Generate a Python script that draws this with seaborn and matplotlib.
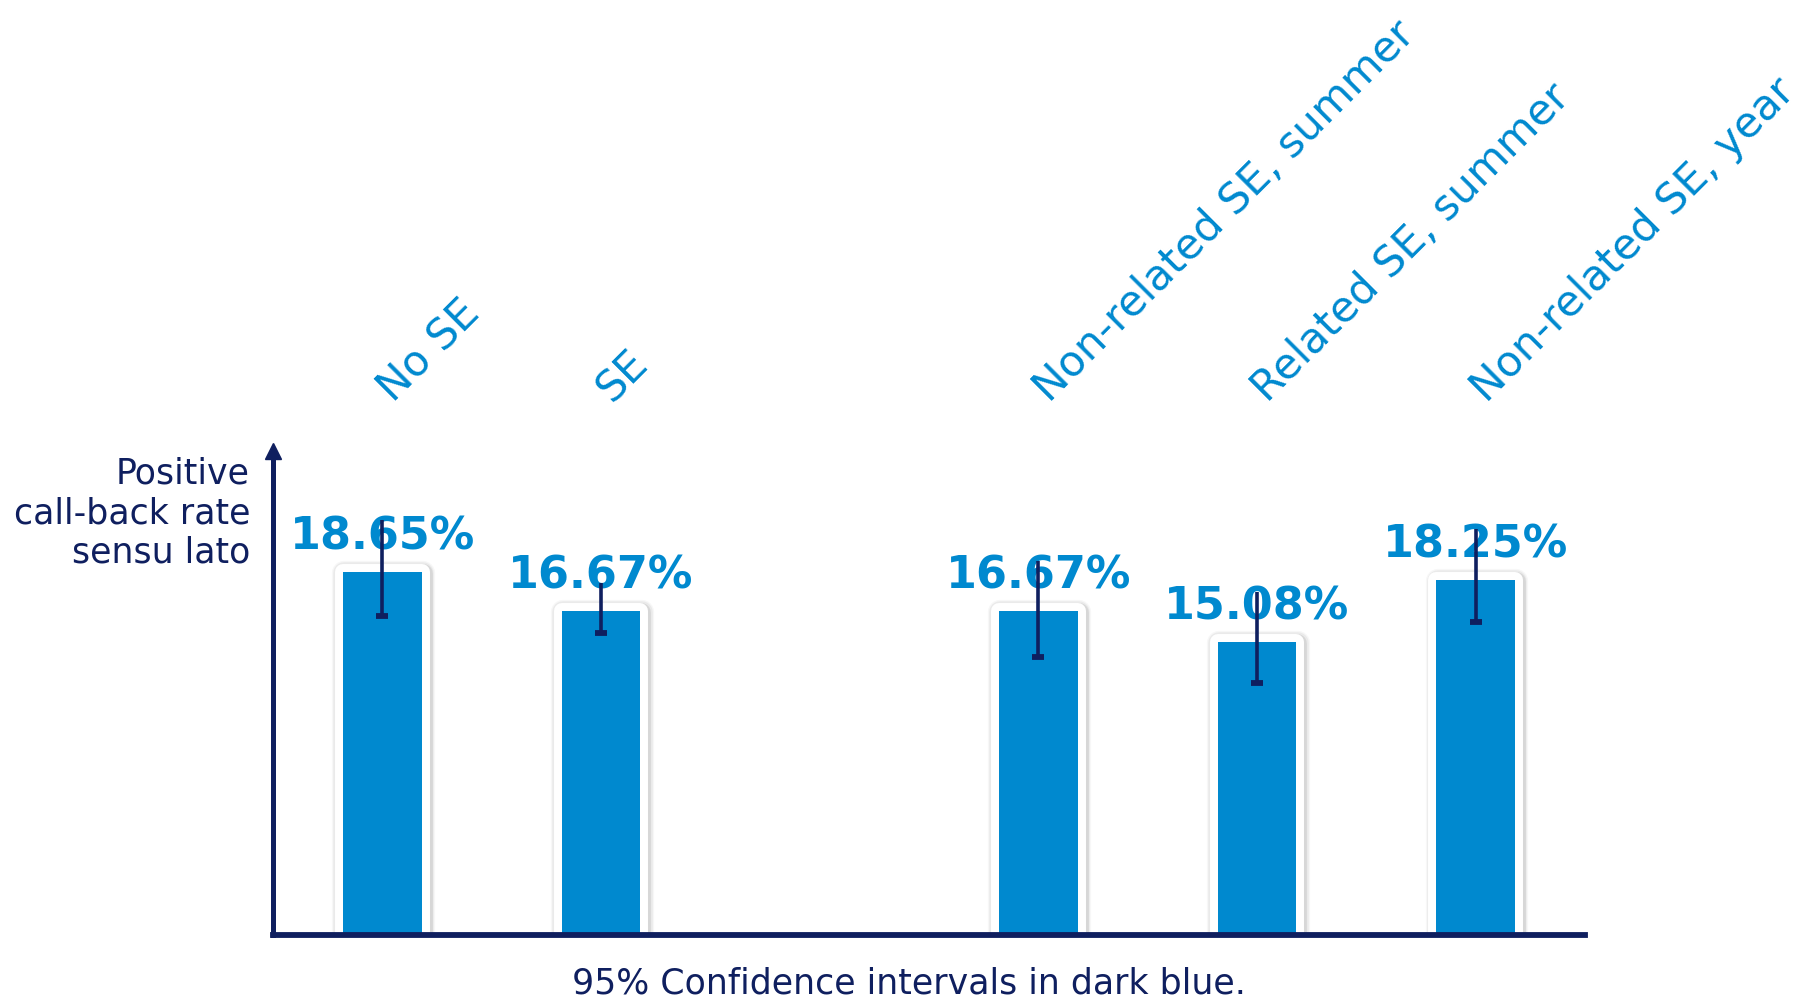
import matplotlib
matplotlib.use("Agg")
import matplotlib.pyplot as plt
import matplotlib.patheffects as pe
import seaborn as sns
import pandas as pd

# ====== DATA ======
categories = ["No SE", "SE", "Non-related SE, summer", "Related SE, summer", "Non-related SE, year"]
order = ["No SE", "SE", " ", "Non-related SE, summer", "Related SE, summer", "Non-related SE, year"]
rates = [18.65, 16.67, 16.67, 15.08, 18.25]
ci_low = [16.4, 15.5, 14.3, 12.95, 16.1]
ci_high = [21.3, 18.1, 19.2, 17.6, 20.85]
value_labels = ["18.65%", "16.67%", "16.67%", "15.08%", "18.25%"]

ylabel = "Positive\ncall-back rate\nsensu lato"
footnote = "95% Confidence intervals in dark blue."

# ====== STYLE ======
LIGHT = "#0089cf"
NAVY = "#0f1f5f"

sns.set_style("white")
plt.rcParams["font.family"] = ["DejaVu Sans"]

df = pd.DataFrame({"group": categories, "rate": rates})

fig = plt.figure(figsize=(18.04, 9.98), dpi=100)
ax = fig.add_axes([273 / 1804, 63 / 998, 1312 / 1804, 484 / 998])

sns.barplot(data=df, x="group", y="rate", order=order, color=LIGHT,
            saturation=1, width=0.36, ax=ax, linewidth=0)

# white frame with a soft grey shadow round each bar
frame = [
    pe.Stroke(linewidth=17.5, foreground="black", alpha=0.03, offset=(1, -1), joinstyle="round"),
    pe.Stroke(linewidth=15.5, foreground="black", alpha=0.05, offset=(1, -1), joinstyle="round"),
    pe.Stroke(linewidth=13.5, foreground="black", alpha=0.08, offset=(0.8, -0.8), joinstyle="round"),
    pe.Stroke(linewidth=11.5, foreground="white", joinstyle="round"),
    pe.Normal(),
]
for p in ax.patches:
    p.set_path_effects(frame)

ax.set_xlim(-0.5, 5.5)
ax.set_ylim(0, 24.87)

# positions of the real categories on the axis
pos = [order.index(c) for c in categories]

# error bars: line up from the low end, cap at the low end only
ax.vlines(pos, ci_low, ci_high, color=NAVY, lw=2.6, zorder=6, clip_on=False)
ax.plot(pos, ci_low, ls="none", marker="_", ms=9, mew=4.2, color=NAVY,
        zorder=6, clip_on=False)

# value labels above the bars
for x, v, t in zip(pos, rates, value_labels):
    ax.annotate(t, (x, v), xytext=(0, 16), textcoords="offset points",
                ha="center", va="baseline", fontsize=32, fontweight="bold",
                color=LIGHT, zorder=5, annotation_clip=False)

# rotated category names above the plot
for x, c in zip(pos, categories):
    ax.text(x + 0.05, 27.3, c, rotation=45, rotation_mode="anchor",
            ha="left", va="baseline", fontsize=30.5, color=LIGHT, clip_on=False)

# axes: only left (with arrow) and bottom
for s in ["top", "right"]:
    ax.spines[s].set_visible(False)
ax.spines["left"].set_color(NAVY)
ax.spines["left"].set_linewidth(3.6)
ax.spines["bottom"].set_color(NAVY)
ax.spines["bottom"].set_linewidth(4.2)
ax.plot(0, 1, marker="^", ms=12, color=NAVY, transform=ax.transAxes,
        clip_on=False, zorder=7)

ax.set_xticks([])
ax.set_yticks([])
ax.set_xlabel("")
ax.set_ylabel("")

fig.text(250 / 1804, 1 - 513 / 998, ylabel, ha="right", va="center",
         multialignment="right", fontsize=25, color=NAVY, linespacing=1.2)
fig.text(909 / 1804, 1 - 994 / 998, footnote, ha="center", va="baseline",
         fontsize=25, color=NAVY)

fig.savefig("out.png", dpi=100, facecolor="white")
